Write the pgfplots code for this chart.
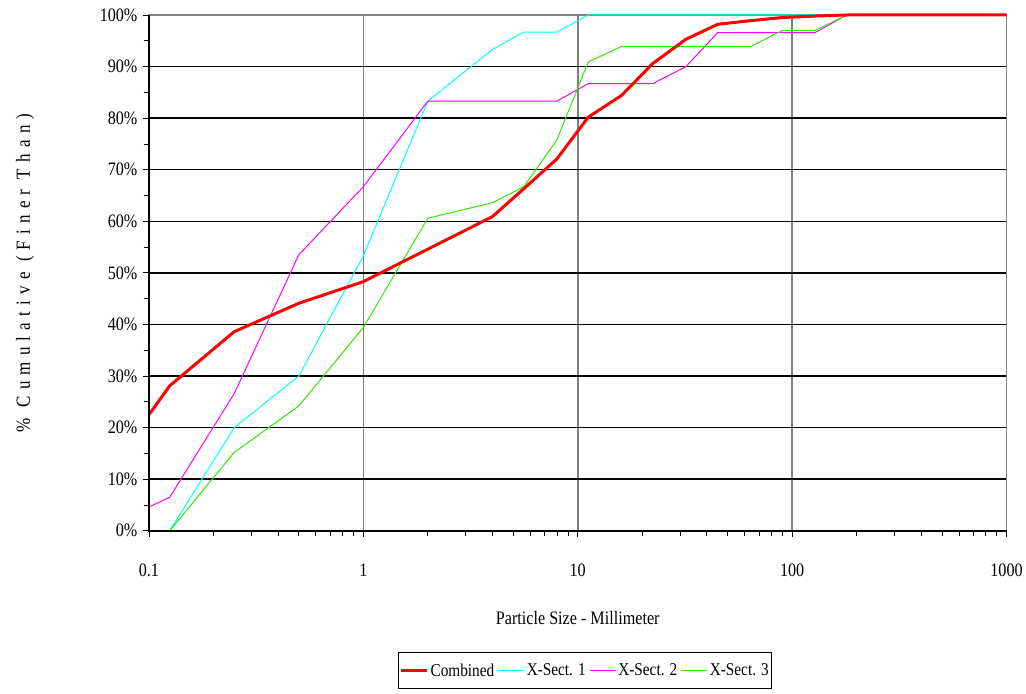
\documentclass[border=0pt]{standalone}
\usepackage{fontspec}
\setmainfont{Liberation Serif}[FakeStretch=0.85]
\newfontfamily\spaced{Liberation Serif}[FakeStretch=0.85,LetterSpace=31]
\usepackage{pgfplots}
\usepackage{pgfplotstable}
\pgfplotsset{compat=1.18}

\pgfplotstableread{
x y
0.1 22.5
0.125 28.1
0.25 38.6
0.5 44.1
1 48.3
2 54.6
4 60.9
5.6 66.3
8 72.1
11.2 80.2
16 84.4
22.4 90.6
32 95.3
45 98.2
64 98.9
90 99.5
128 99.8
180 100
1000 100
}\combined

\pgfplotstableread{
x y
0.1 0
0.125 0
0.25 20.0
0.5 30.0
1 53.3
2 83.3
4 93.3
5.6 96.7
8 96.7
11.2 100
1000 100
}\xsecone

\pgfplotstableread{
x y
0.1 4.6
0.125 6.5
0.25 26.6
0.5 53.5
1 66.7
2 83.3
4 83.3
5.6 83.3
8 83.3
11.2 86.7
16 86.7
22.4 86.7
32 90.0
45 96.6
64 96.6
90 96.6
128 96.6
180 100
1000 100
}\xsectwo

\pgfplotstableread{
x y
0.1 0
0.125 0
0.25 15.2
0.5 24.2
1 39.4
2 60.6
4 63.6
5.6 66.7
8 75.8
11.2 90.9
16 93.9
22.4 93.9
32 93.9
45 93.9
64 93.9
90 97.0
128 97.0
180 100
1000 100
}\xsecthree

\definecolor{lgreen}{RGB}{40,235,0}
\definecolor{lcyan}{RGB}{0,255,255}
\definecolor{lmag}{RGB}{255,0,255}
\definecolor{lred}{RGB}{255,0,0}

\begin{document}
\begin{tikzpicture}
\begin{axis}[
  at={(0pt,0pt)}, anchor=south west,
  scale only axis, width=858pt, height=516pt,
  xmode=log, xmin=0.1, xmax=1000, ymin=0, ymax=100,
  clip=false,
  font=\fontsize{19}{22}\selectfont,
  xtick={0.1,1,10,100,1000},
  xticklabels={0.1,1,10,100,1000},
  ytick={0,10,...,100},
  yticklabels={0\%,10\%,20\%,30\%,40\%,50\%,60\%,70\%,80\%,90\%,100\%},
  minor ytick={5,15,...,95},
  tick align=outside,
  xtick pos=bottom, ytick pos=left,
  major tick length=6pt, minor tick length=5pt,
  tick style={black, line width=0.8pt},
  xmajorgrids, ymajorgrids,
  x grid style={gray, line width=1.6pt},
  y grid style={black, line width=1.5pt},
  axis line style={gray, line width=1.5pt},
  xticklabel style={yshift=-24pt},
  yticklabel style={xshift=-2pt},
  xlabel={Particle Size - Millimeter},
  xlabel style={at={(axis description cs:0.5,0)}, anchor=center, yshift=-87pt},
  ylabel={{\spaced \% Cumulative (Finer Than)}},
  ylabel style={at={(axis description cs:-0.1445,0.5)}, anchor=center, font=\fontsize{20}{23}\selectfont},
  legend style={at={(axis description cs:0.5,0)}, anchor=center, yshift=-140pt, xshift=7.5pt,
    legend columns=4, draw=black, line width=0.8pt, inner xsep=1pt, inner ysep=9pt,
    font=\fontsize{18}{21}\selectfont,
    /tikz/every even column/.append style={column sep=1.5pt}},
  legend cell align=left,
  legend image code/.code={\draw[#1] (0pt,0pt) -- (26pt,0pt);},
]
\addlegendimage{lred, line width=3pt}
\addlegendentry{Combined}
\addlegendimage{lcyan, line width=1pt}
\addlegendentry{X-Sect. 1}
\addlegendimage{lmag, line width=1pt}
\addlegendentry{X-Sect. 2}
\addlegendimage{lgreen, line width=1pt}
\addlegendentry{X-Sect. 3}

\addplot[lcyan, line width=1pt, forget plot] table {\xsecone};
\addplot[lmag, line width=1pt, forget plot] table {\xsectwo};
\addplot[lgreen, line width=1pt, forget plot] table {\xsecthree};
\addplot[lred, line width=3pt, forget plot] table {\combined};
\draw[black, line width=1.5pt] (rel axis cs:0,1) -- (rel axis cs:0,0) -- (rel axis cs:1,0);
\end{axis}
\path (-149pt,-163pt) rectangle (877pt,531pt);
\end{tikzpicture}
\end{document}
